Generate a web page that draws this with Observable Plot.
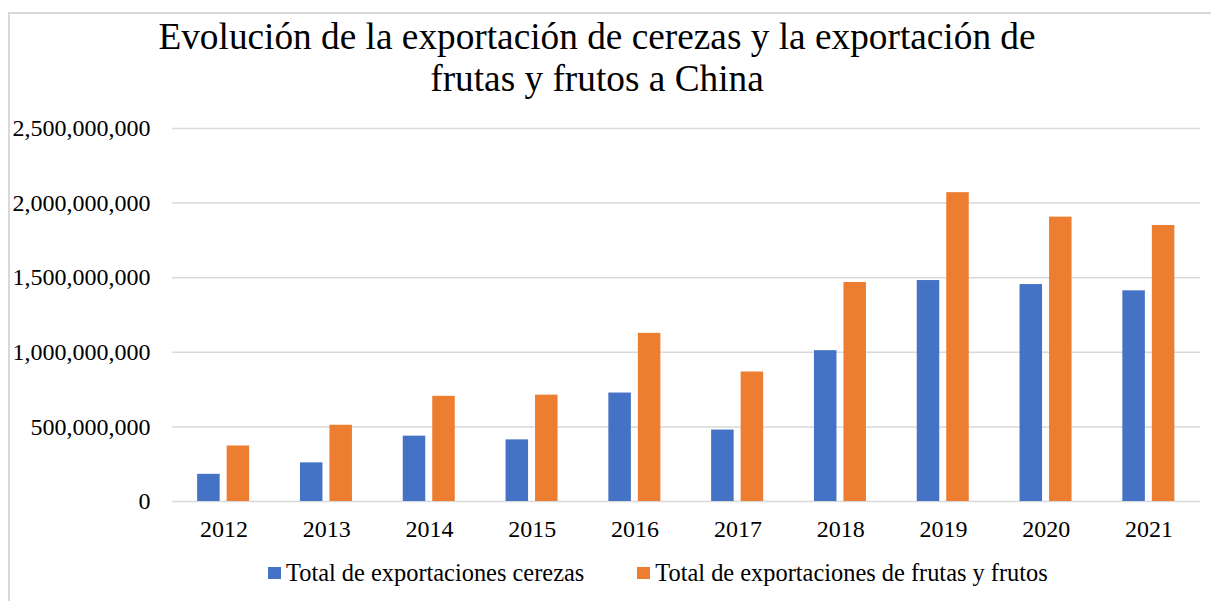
<!DOCTYPE html>
<html><head><meta charset="utf-8">
<script src="https://cdn.jsdelivr.net/npm/d3@7"></script>
<script src="https://cdn.jsdelivr.net/npm/@observablehq/plot@0.6"></script>
<style>
html,body{margin:0;padding:0;background:#fff;}
body{font-family:"Liberation Serif","Times New Roman",serif;color:#000;width:1211px;height:601px;overflow:hidden;position:relative;}
#frame{position:absolute;left:8px;top:12px;width:1240px;height:640px;border:2px solid #d9d9d9;box-sizing:border-box;}
#title{position:absolute;left:0;width:1194px;top:16px;text-align:center;font-size:37.3px;line-height:42px;font-family:"Liberation Serif",serif;}
#chart{position:absolute;left:0;top:100px;}
#chart svg, #chart svg text{font-family:"Liberation Serif","Times New Roman",serif !important;font-size:24px;fill:#000;}
#legend{position:absolute;left:268px;top:558px;font-size:24.4px;line-height:30px;display:flex;align-items:center;white-space:nowrap;font-family:"Liberation Serif",serif;}
.sw{display:inline-block;width:13px;height:12px;margin-right:5px;}
.item{display:flex;align-items:center;}
</style>
</head><body>
<div id="frame"></div>
<div id="title">Evolución de la exportación de cerezas y la exportación de<br>frutas y frutos a China</div>
<div id="chart"></div>
<div id="legend"></div>
<script>
const years = ["2012","2013","2014","2015","2016","2017","2018","2019","2020","2021"];
const cerezas = [182e6, 259e6, 438e6, 413e6, 727e6, 479e6, 1011e6, 1481e6, 1454e6, 1412e6];
const frutas = [372e6, 511e6, 705e6, 713e6, 1127e6, 868e6, 1468e6, 2070e6, 1906e6, 1850e6];
const series = ["Total de exportaciones cerezas", "Total de exportaciones de frutas y frutos"];
const colors = ["#4472C4", "#ED7D31"];
const yTicks = [0, 5e8, 1e9, 1.5e9, 2e9, 2.5e9];

const dataA = years.map((yr, i) => ({year: yr, serie: series[0], value: cerezas[i]}));
const dataB = years.map((yr, i) => ({year: yr, serie: series[1], value: frutas[i]}));

const chart = Plot.plot({
  width: 1211, height: 440,
  marginTop: 28, marginBottom: 39, marginLeft: 172, marginRight: 11,
  style: {fontFamily: "Liberation Serif", fontSize: "24px", color: "#000", background: "transparent"},
  x: {domain: years, paddingInner: 0.781, paddingOuter: 0.3905, round: false, label: null, tickSize: 0, tickPadding: 18},
  y: {domain: [0, 2.5e9], ticks: yTicks, tickFormat: d3.format(","), label: null, tickSize: 0, tickPadding: 22},
  color: {domain: series, range: colors},
  marks: [
    Plot.ruleY(yTicks, {stroke: "#d9d9d9", strokeWidth: 1.5}),
    Plot.barY(dataA, {x: "year", y: "value", fill: "serie", dx: -15}),
    Plot.barY(dataB, {x: "year", y: "value", fill: "serie", dx: 14.5})
  ]
});
document.getElementById("chart").appendChild(chart);

const legend = document.getElementById("legend");
series.forEach((s, i) => {
  const it = document.createElement("div");
  it.className = "item";
  if (i > 0) it.style.marginLeft = "53px";
  const sw = document.createElement("span");
  sw.className = "sw";
  sw.style.background = colors[i];
  const t = document.createElement("span");
  t.textContent = s;
  it.appendChild(sw); it.appendChild(t);
  legend.appendChild(it);
});
</script>
</body></html>
